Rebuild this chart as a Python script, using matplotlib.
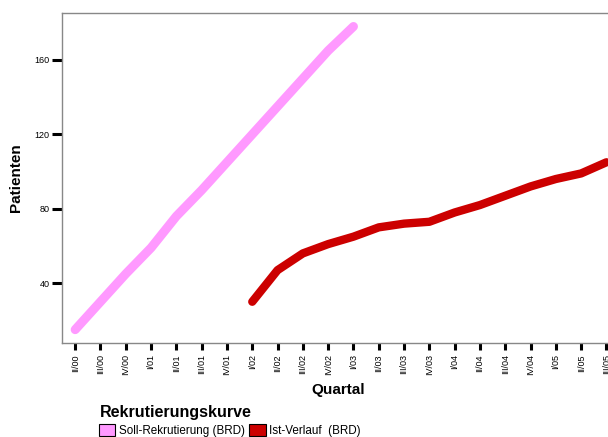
import matplotlib
matplotlib.use("Agg")
import matplotlib.pyplot as plt
from matplotlib.patches import Patch

plt.rcParams['font.family'] = ['Liberation Sans', 'DejaVu Sans']

quarters = ["II/00", "III/00", "IV/00", "I/01", "II/01", "III/01", "IV/01",
            "I/02", "II/02", "III/02", "IV/02", "I/03", "II/03", "III/03",
            "IV/03", "I/04", "II/04", "III/04", "IV/04", "I/05", "II/05", "III/05"]

# Soll-Rekrutierung: II/00 .. I/03
soll = [15, 30, 45, 59, 76, 90, 105, 120, 135, 150, 165, 178]
# Ist-Verlauf: I/02 .. III/05
ist = [30, 47, 56, 61, 65, 70, 72, 73, 78, 82, 87, 92, 96, 99, 105]
ist_start = quarters.index("I/02")

pink = "#ff99ff"
red = "#cc0000"

fig = plt.figure(figsize=(6.08, 4.37), dpi=100)
ax = fig.add_axes([0.102, 0.215, 0.91, 0.755])

x_soll = list(range(len(soll)))
x_ist = list(range(ist_start, ist_start + len(ist)))
ax.plot(x_soll, soll, color=pink, lw=6.5, solid_capstyle='round', solid_joinstyle='round')
ax.plot(x_ist, ist, color=red, lw=6, solid_capstyle='round', solid_joinstyle='round')

ax.set_xlim(-0.52, len(quarters) - 1 + 0.35)
ax.set_ylim(7.8, 185.2)
ax.set_yticks([40, 80, 120, 160])
ax.set_xticks(range(len(quarters)))
ax.set_xticklabels(quarters, rotation=90, fontsize=6.5)
ax.tick_params(axis='y', labelsize=6.5, length=7, width=2.2, pad=2)
ax.tick_params(axis='x', length=5, width=2.2, pad=3)

for side in ['left', 'top', 'bottom']:
    ax.spines[side].set_color('#888888')
    ax.spines[side].set_linewidth(1)
ax.spines['right'].set_visible(False)

ax.set_ylabel("Patienten", fontsize=11, fontweight='bold', labelpad=8)
ax.set_xlabel("Quartal", fontsize=11, fontweight='bold', labelpad=6)

# legend title and entries
fig.text(0.164, 0.057, "Rekrutierungskurve", fontsize=11.5, fontweight='bold',
         ha='left', va='center')
handles = [Patch(facecolor=pink, edgecolor='black', lw=0.8),
           Patch(facecolor=red, edgecolor='black', lw=0.8)]
fig.legend(handles, ["Soll-Rekrutierung (BRD)", "Ist-Verlauf  (BRD)"],
           ncol=2, loc='center left', bbox_to_anchor=(0.163, 0.015),
           frameon=False, fontsize=8.4, handlelength=1.4, handleheight=1.2,
           handletextpad=0.3, columnspacing=0.4, borderpad=0, borderaxespad=0)

fig.savefig("out.png", dpi=100)
